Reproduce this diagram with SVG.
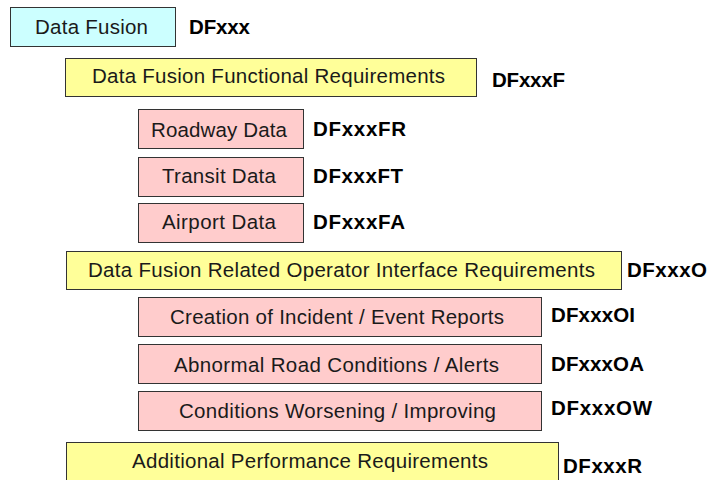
<svg xmlns="http://www.w3.org/2000/svg" width="707" height="480" viewBox="0 0 707 480">
  <style>
    .box { stroke: #333333; stroke-width: 1; }
    .top { fill: #ccffff; }
    .group { fill: #ffff99; }
    .item { fill: #ffcccc; }
    .name { font-family: "Liberation Sans", Arial, sans-serif; font-size: 20.5px; fill: #1a1a1a; }
    .code { font-family: "Liberation Sans", Arial, sans-serif; font-size: 20.5px; font-weight: bold; fill: #000000; }
  </style>
  <rect width="707" height="480" fill="#ffffff"/>

  <g id="data-fusion">
    <rect class="box top" x="10.5" y="7.5" width="165" height="39"/>
    <text class="name" x="35" y="34" textLength="113">Data Fusion</text>
    <text class="code" x="189" y="34" textLength="61">DFxxx</text>
  </g>

  <g id="functional-requirements">
    <rect class="box group" x="65.5" y="58.5" width="411" height="38"/>
    <text class="name" x="92" y="83" textLength="353">Data Fusion Functional Requirements</text>
    <text class="code" x="492" y="87" textLength="73">DFxxxF</text>
  </g>

  <g id="roadway-data">
    <rect class="box item" x="138.5" y="109.5" width="165" height="39"/>
    <text class="name" x="151" y="137" textLength="136">Roadway Data</text>
    <text class="code" x="313" y="136" textLength="93">DFxxxFR</text>
  </g>

  <g id="transit-data">
    <rect class="box item" x="138.5" y="157.5" width="165" height="39"/>
    <text class="name" x="162" y="183" textLength="114">Transit Data</text>
    <text class="code" x="313" y="183" textLength="90">DFxxxFT</text>
  </g>

  <g id="airport-data">
    <rect class="box item" x="138.5" y="203.5" width="165" height="39"/>
    <text class="name" x="162" y="229" textLength="114">Airport Data</text>
    <text class="code" x="313" y="229" textLength="92">DFxxxFA</text>
  </g>

  <g id="operator-interface-requirements">
    <rect class="box group" x="66.5" y="251.5" width="555" height="38"/>
    <text class="name" x="88" y="277" textLength="507">Data Fusion Related Operator Interface Requirements</text>
    <text class="code" x="627" y="277" textLength="80">DFxxxO</text>
  </g>

  <g id="incident-event-reports">
    <rect class="box item" x="138.5" y="297.5" width="403" height="39"/>
    <text class="name" x="170" y="324" textLength="334">Creation of Incident / Event Reports</text>
    <text class="code" x="551" y="322" textLength="84">DFxxxOI</text>
  </g>

  <g id="abnormal-road-conditions">
    <rect class="box item" x="138.5" y="344.5" width="403" height="39"/>
    <text class="name" x="174" y="372" textLength="325">Abnormal Road Conditions / Alerts</text>
    <text class="code" x="551" y="371" textLength="93">DFxxxOA</text>
  </g>

  <g id="conditions-worsening">
    <rect class="box item" x="138.5" y="391.5" width="403" height="39"/>
    <text class="name" x="179" y="418" textLength="317">Conditions Worsening / Improving</text>
    <text class="code" x="551" y="415" textLength="101">DFxxxOW</text>
  </g>

  <g id="performance-requirements">
    <rect class="box group" x="66.5" y="442.5" width="492" height="40"/>
    <text class="name" x="132" y="468" textLength="356">Additional Performance Requirements</text>
    <text class="code" x="563" y="473" textLength="79">DFxxxR</text>
  </g>
</svg>
